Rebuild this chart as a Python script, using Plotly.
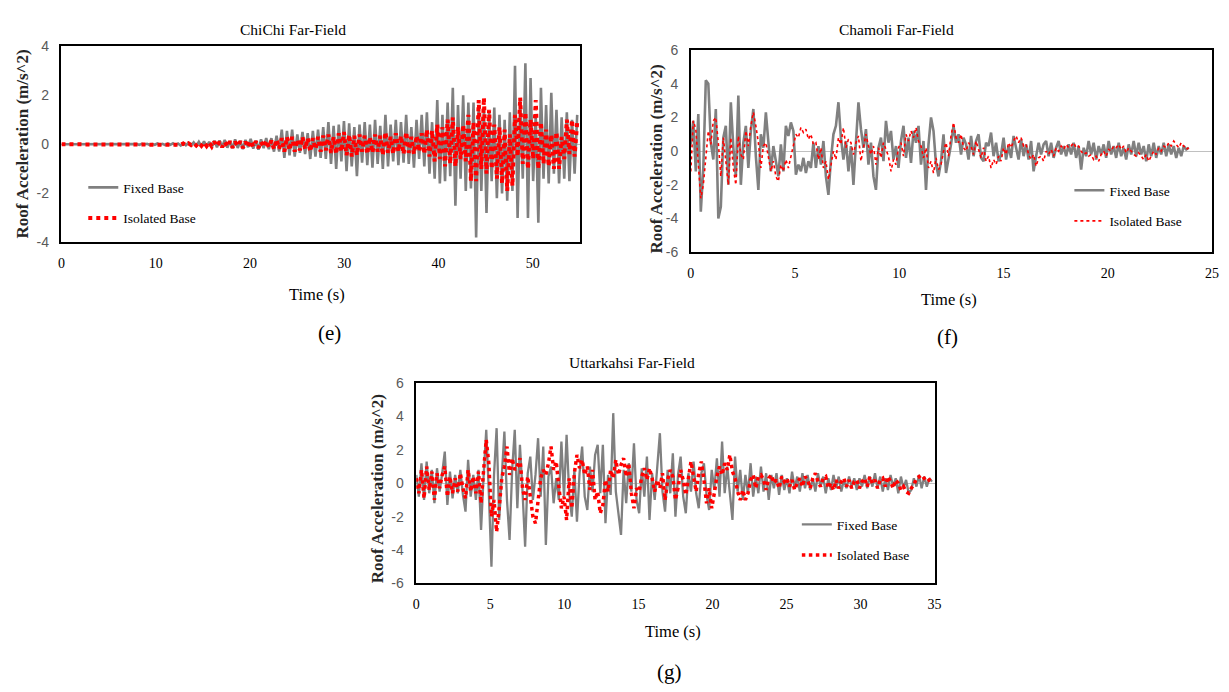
import numpy as np
import plotly.graph_objects as go

W, H = 1229, 692

# ---------------- Data ----------------
# (e) ChiChi Far-Field, sampled every 0.275 s
chichi_dt = 0.275
chichi_fixed = [
    0, 0, 0.01, -0.01, 0, 0.01, 0, -0.01, 0.01, 0, 0, -0.01, 0.01, 0, 0, 0.01, -0.01, 0, 0.01, 0,
    0, -0.01, 0.01, -0.01, 0.01, 0, -0.01, 0.02, -0.01, 0.01, -0.02, 0.02, -0.01, 0.02, -0.02, 0.01, -0.02, 0.03, -0.02, 0.02,
    -0.03, 0.03, -0.02, 0.04, -0.04, 0.03, -0.05, 0.05, -0.04, 0.06, -0.05, 0.08, -0.07, 0.1, -0.09, 0.12, -0.1, 0.1, -0.12, 0.14,
    -0.12, 0.15, -0.1, 0.18, -0.14, 0.12, -0.16, 0.2, -0.15, 0.14, -0.2, 0.18, -0.12, 0.22, -0.18, 0.15, -0.22, 0.2, -0.16, 0.25,
    -0.2, 0.25, -0.3, 0.35, -0.3, 0.6, -0.55, 0.55, -0.45, 0.6, -0.5, 0.4, -0.35, 0.5, -0.4, 0.45, -0.6, 0.55, -0.5, 0.6,
    -0.55, 0.7, -0.6, 0.9, -0.8, 0.75, -1.0, 0.8, -0.7, 0.95, -1.1, 0.85, -0.9, 0.7, -1.3, 0.8, -0.75, 0.9, -0.85, 0.8,
    -0.95, 1.0, -0.8, 0.75, -1.0, 1.2, -0.9, 0.8, -0.7, 1.0, -0.85, 0.9, -0.75, 1.2, -0.8, 0.7, -0.95, 1.0, -0.6, 1.2,
    -0.9, 1.3, -1.2, 0.9, -1.4, 1.8, -1.6, 1.2, -1.5, 1.7, -1.3, 2.3, -2.5, 1.6, -1.4, 2.0, -1.9, 1.7, -1.8, 1.7,
    -3.8, 1.6, -1.9, 1.5, -2.8, 1.3, -1.5, 1.5, -2.2, 1.2, -2.0, 1.0, -2.3, 1.3, -1.9, 3.2, -3.0, 1.8, -1.4, 3.3,
    -3.0, 2.7, -1.5, 1.2, -3.2, 2.3, -1.4, 1.6, -1.6, 2.1, -1.2, 1.4, -1.6, 1.1, -1.4, 1.3, -1.5, 1.0, -1.2, 1.2,
]
chichi_isolated = [
    0, 0, 0, 0, 0, 0, 0, 0, 0, 0, 0, 0, 0, 0, 0, 0, 0, 0, 0, 0,
    0, 0, 0.01, 0, -0.01, 0, 0.01, 0, -0.01, 0.01, 0, -0.01, 0.01, 0, -0.01, 0.01, -0.01, 0.01, -0.01, 0.01,
    0, 0.01, -0.01, 0.01, -0.02, 0.02, -0.02, 0.03, -0.03, 0.04, -0.03, 0.05, -0.05, 0.06, -0.06, 0.08, -0.07, 0.08, -0.09, 0.1,
    -0.08, 0.1, -0.12, 0.1, -0.1, 0.12, -0.14, 0.1, -0.08, 0.12, -0.15, 0.1, -0.12, 0.14, -0.1, 0.12, -0.15, 0.1, -0.12, 0.15,
    -0.12, 0.15, -0.2, 0.2, -0.18, 0.25, -0.3, 0.3, -0.25, 0.3, -0.3, 0.2, -0.25, 0.3, -0.2, 0.25, -0.3, 0.25, -0.2, 0.3,
    -0.3, 0.35, -0.25, 0.4, -0.35, 0.3, -0.4, 0.45, -0.3, 0.5, -0.45, 0.4, -0.5, 0.35, -0.45, 0.4, -0.3, 0.35, -0.4, 0.3,
    -0.35, 0.4, -0.3, 0.35, -0.45, 0.5, -0.35, 0.3, -0.4, 0.45, -0.3, 0.35, -0.4, 0.5, -0.35, 0.3, -0.4, 0.35, -0.3, 0.45,
    -0.4, 0.6, -0.5, 0.55, -0.7, 0.8, -0.6, 0.7, -0.9, 1.0, -0.8, 1.1, -0.9, 0.7, -0.6, 0.8, -0.7, 1.2, -1.5, 0.9,
    -1.5, 1.8, -1.0, 1.9, -1.2, 1.4, -1.0, 0.8, -1.4, 0.7, -1.6, 0.6, -1.9, 0.4, -1.7, 1.2, -0.5, 1.9, -0.8, 1.3,
    -1.0, 1.0, -0.6, 1.8, -1.0, 0.9, -0.8, 0.6, -0.9, 0.4, -1.0, 0.5, -1.0, 0.3, -0.6, 1.0, -0.4, 1.0, -0.5, 0.9,
]

# (f) Chamoli Far-Field, sampled every 0.12 s
chamoli_dt = 0.12
chamoli_fixed = [
    0.4, 1.8, -1.2, 2.2, -3.6, -1.0, 4.2, 4.0, 0.5, -0.5,
    2.5, -4.0, -3.3, 0.8, 1.5, -2.0, 2.9, 0.2, -1.5, 3.3,
    -2.0, 0.5, 1.5, -1.0, 1.2, 2.5, -0.3, -2.3, 1.0, 0.2,
    2.3, 0.5, -1.2, 0.3, -0.5, -1.5, 0.4, -1.2, 1.5, 0.9,
    1.7, 1.2, -1.4, -0.8, -1.2, -0.4, -1.3, -0.6, -1.0, 0.5,
    -1.0, 0.3, -0.8, 0.6, -1.5, -2.6, -0.5, 1.0, 1.5, 2.9,
    0.8, -0.5, 0.6, -1.2, 0.3, -2.0, 0.5, 2.9, 1.3, 0.2,
    1.3, -0.8, 0.5, -1.5, -2.3, 0.2, 0.8, -0.6, 1.8, 0.5,
    1.2, -0.5, 0.3, -1.0, 0.6, 1.5, -0.4, 0.8, -0.7, 1.2,
    0.5, 1.5, -0.8, 0.6, -2.3, 0.4, 2.0, 1.2, -0.8, -1.5,
    -0.6, 1.0, -1.3, -0.5, 0.4, 1.5, 0.5, 1.0, -0.2, 0.8,
    0.4, -0.5, 0.9, -0.3, 0.6, 1.0, -0.4, -0.6, 0.5, 0.3,
    1.1, -0.3, 0.5, -0.6, -0.2, 0.8, -0.5, 0.3, -0.4, 0.9,
    0.2, -0.5, 0.7, -0.3, 0.4, -0.5, 0.6, -1.2, -0.3, 0.5,
    -0.2, 0.4, 0.6, -0.3, 0.5, -0.4, 0.2, 0.6, -0.2, 0.3,
    -0.3, 0.4, -0.2, 0.5, -0.4, 0.3, -1.1, 0.2, -0.3, 0.6,
    -0.2, 0.5, -0.5, 0.3, -0.2, 0.4, -0.4, 0.6, -0.2, 0.3,
    -0.4, 0.5, -0.3, 0.2, -0.5, 0.4, -0.2, 0.6, -0.3, 0.5,
    -0.2, 0.3, -0.6, 0.4, -0.3, 0.5, -0.4, 0.3, -0.2, 0.5,
    -0.3, 0.4, -0.2, 0.3, -0.4, 0.2, -0.3, 0.3, 0.1, 0.2,
]
chamoli_isolated = [
    -1.2, 1.8, 1.3, -0.5, -2.8, -2.0, -0.3, 1.2, 0.4, 1.8,
    2.0, 0.5, -1.5, 0.8, -0.6, -2.0, 0.8, -1.0, -2.0, 0.9,
    -0.2, -0.5, 1.2, 0.3, 1.5, 2.3, 1.5, 0.5, -1.0, 0.3,
    0.5, -0.4, -1.2, -0.6, -1.5, -1.8, -0.8, -1.2, -0.5, -1.0,
    -0.3, 0.2, 1.0, 0.8, 1.4, 1.1, 1.3, 0.7, 1.0, 0.4,
    0.5, -0.5, 0.2, -1.0, -0.6, -1.7, -0.8, 0.0, -0.5, 0.8,
    0.4, 1.4, 0.2, 0.7, 0.5, -0.2, 0.5, 0.9, -0.6, 0.3,
    1.0, 0.3, -0.2, 0.3, -0.8, 0.2, -0.4, 0.5, 0.1, -0.3,
    -1.2, -0.5, -0.8, 0.2, 0.5, -0.3, 1.0, 0.6, 1.2, 0.8,
    1.4, 0.6, 0.3, -0.4, 0.2, -1.0, -0.6, -1.3, -0.4, -1.1,
    -0.8, 0.0, 0.5, -0.3, 0.9, 1.7, 0.8, 0.5, 1.0, 0.2,
    0.0, 0.5, 0.3, -0.2, 0.6, 0.1, -0.4, 0.2, -0.6, -0.3,
    -1.0, -0.5, -0.8, -0.3, -0.6, 0.2, -0.2, 0.5, 0.2, 0.6,
    0.9, 0.5, 0.8, 0.3, 0.4, -0.2, -0.5, -0.2, -0.9, -0.4,
    -0.3, -0.6, 0.0, -0.2, 0.1, -0.3, 0.2, 0.0, 0.3, 0.1,
    0.4, 0.2, 0.3, 0.5, 0.2, 0.3, 0.0, -0.2, -0.1, -0.3,
    -0.2, -0.5, -0.3, -0.6, -0.2, 0.0, -0.3, 0.1, 0.0, 0.3,
    0.2, 0.4, 0.1, 0.3, -0.1, 0.2, 0.0, -0.2, -0.3, -0.1,
    -0.3, -0.5, -0.2, -0.6, -0.3, 0.0, -0.2, 0.2, 0.0, 0.3,
    0.2, 0.5, 0.3, 0.6, 0.4, 0.2, 0.5, 0.3, 0.1, 0.2,
]

# (g) Uttarkahsi Far-Field, sampled every 0.175 s
uttar_dt = 0.175
uttar_fixed = [
    0.5, -0.8, 1.2, -1.0, 1.3, -0.6, 0.8, -1.2, 0.9, -0.5,
    0.6, 1.9, -1.3, 0.7, -0.9, 0.5, -0.6, 0.8, -0.7, -1.7,
    1.4, -0.8, 0.5, -1.0, 0.8, -2.8, 0.5, 3.2, -0.6, -5.0,
    0.5, 3.3, -2.2, 0.6, 3.1, -1.0, -3.4, 0.8, 3.2, -1.5,
    2.3, -0.5, -3.8, 0.6, 1.6, -1.0, 0.5, 2.7, -0.8, 2.2,
    -3.7, 0.4, 1.0, -1.2, 0.3, -1.0, 2.5, -0.8, 2.9, -0.6,
    -2.0, 0.8, -2.3, 0.6, 2.2, -0.8, -1.6, 1.0, -0.5, 1.7,
    2.3, -0.6, 2.3, -2.4, 0.5, -0.7, 4.2, -0.5, -2.0, -3.1,
    0.8, -1.2, 1.2, -0.5, 2.4, -1.0, -1.8, 0.9, -0.8, 1.6,
    -2.2, 0.6, -1.0, 1.0, 3.0, -0.5, -1.7, 0.8, -0.6, 1.8,
    -2.0, 0.5, 1.6, -0.8, -1.8, 0.6, -0.5, 1.3, -0.6, -1.5,
    0.6, 1.2, -0.7, -1.6, 0.8, -0.4, 1.5, -0.8, 2.5, -0.6,
    1.0, -0.6, -2.2, 1.6, -0.5, 0.8, -1.0, 0.5, -0.6, 1.2,
    -0.8, 0.4, -0.6, 1.0, -0.5, 0.6, -1.0, 0.5, -0.3, 0.6,
    -0.7, 0.5, -0.4, 0.3, -0.6, 0.7, -0.3, 0.4, -0.5, 0.6,
    -0.3, 0.5, -0.4, 0.3, -0.5, 0.6, -0.2, 0.4, -0.6, 0.3,
    -0.4, 0.5, -0.3, 0.4, -0.5, 0.2, -0.3, 0.4, -0.2, 0.3,
    -0.4, 0.3, -0.2, 0.5, -0.3, 0.4, -0.2, 0.6, -0.3, 0.4,
    -0.5, 0.3, -0.4, 0.5, -0.2, 0.3, -0.6, 0.4, -0.3, 0.2,
    -0.6, -0.4, 0.3, -0.2, 0.5, -0.3, 0.4, -0.2, 0.3, 0.1,
]
uttar_isolated = [
    0.3, -0.6, 0.8, -0.9, 1.0, -0.4, 0.7, -1.0, 0.6, -0.3,
    0.5, 1.0, -0.8, 0.4, -0.6, 0.3, -0.5, 0.6, -0.3, -0.9,
    0.8, -0.5, 0.4, -0.6, 0.7, -1.2, 0.8, 2.6, 1.2, -2.0,
    -1.0, -2.9, -1.5, 0.3, 1.0, 2.2, 0.5, 1.5, 0.8, 1.0,
    1.5, -0.3, -1.0, 0.4, -0.8, -2.0, -2.4, -1.0, 0.3, 0.8,
    0.5, 1.2, 2.2, 0.8, 1.3, -0.2, -1.5, -0.8, -2.2, 0.3,
    -1.5, 0.6, 1.7, 0.9, 1.4, 0.5, 1.0, -0.4, 0.8, -1.0,
    -0.5, -1.8, -1.3, 0.2, -0.5, 0.8, 0.3, 1.4, 0.5, 1.1,
    1.5, 0.4, 1.2, -0.6, -1.5, -0.3, -0.5, 0.4, 0.9, 0.2,
    0.9, 0.3, -0.5, 0.2, -0.3, 0.6, -1.0, 0.2, 0.8, 0.4,
    -1.0, -0.3, 0.8, 0.2, -0.7, 0.3, 1.3, 0.4, -0.5, 0.6,
    1.3, 0.2, -1.2, -0.3, -1.5, -0.6, 0.4, 1.0, 0.5, 1.2,
    0.8, 1.7, 0.7, 0.3, -0.5, -1.0, -0.4, -1.0, -0.6, 0.2,
    0.5, -0.3, 0.4, 0.5, 0.2, -0.4, 0.3, 0.5, 0.0, 0.2,
    -0.3, 0.4, 0.1, 0.3, -0.2, 0.2, -0.4, 0.0, 0.3, -0.2,
    0.4, 0.2, -0.3, 0.3, 0.6, 0.1, -0.2, 0.3, 0.4, -0.3,
    0.0, -0.4, 0.2, -0.3, 0.1, 0.3, -0.2, 0.2, -0.3, 0.1,
    0.2, -0.3, 0.1, 0.3, -0.2, 0.4, 0.0, 0.2, -0.3, 0.2,
    0.3, -0.2, 0.4, 0.1, -0.3, 0.2, 0.0, -0.4, -0.2, -0.5,
    -0.6, -0.3, -0.1, 0.3, 0.4, 0.2, 0.3, 0.1, 0.2, 0.0,
]

# Tick values / labels (hyphen minus, as in the original)
chichi_yticks = [-4, -2, 0, 2, 4]
chichi_ytext = ["-4", "-2", "0", "2", "4"]
wide_yticks = [-6, -4, -2, 0, 2, 4, 6]
wide_ytext = ["-6", "-4", "-2", "0", "2", "4", "6"]
chichi_xticks = [0, 10, 20, 30, 40, 50]
chamoli_xticks = [0, 5, 10, 15, 20, 25]
uttar_xticks = [0, 5, 10, 15, 20, 25, 30, 35]

panel_titles = ["ChiChi Far-Field", "Chamoli Far-Field", "Uttarkahsi Far-Field"]
panel_letters = ["(e)", "(f)", "(g)"]
series_names = ["Fixed Base", "Isolated Base"]
y_title = "Roof Acceleration (m/s^2)"
x_title = "Time (s)"

# ---------------- Layout helpers ----------------
def px(x):
    return x / W

def py(y):
    return 1 - y / H

SERIF = "Liberation Serif"
SANS = "Liberation Sans"
GREY = "rgb(128,128,128)"
RED = "rgb(255,0,0)"

panels = [
    dict(t=chichi_dt, fixed=chichi_fixed, iso=chichi_isolated,
         box=(58, 581, 39, 240), xr=[0, 55], xt=chichi_xticks, yr=[-4, 4],
         yt=chichi_yticks, ytt=chichi_ytext,
         iso_w=4, fix_w=2.6, legend=(80, 168),
         title=(292, 22), ylab=(19, 139), xlab=(316, 293), letter=(328, 333)),
    dict(t=chamoli_dt, fixed=chamoli_fixed, iso=chamoli_isolated,
         box=(693, 1219, 43, 250), xr=[0, 25], xt=chamoli_xticks, yr=[-6, 6],
         yt=wide_yticks, ytt=wide_ytext,
         iso_w=1.6, fix_w=2.6, legend=(1075, 171),
         title=(901, 22), ylab=(658, 155), xlab=(954, 298), letter=(952, 337)),
    dict(t=uttar_dt, fixed=uttar_fixed, iso=uttar_isolated,
         box=(416, 939, 384, 589), xr=[0, 35], xt=uttar_xticks, yr=[-6, 6],
         yt=wide_yticks, ytt=wide_ytext,
         iso_w=3.5, fix_w=2.3, legend=(800, 513),
         title=(634, 363), ylab=(377, 492), xlab=(675, 638), letter=(672, 680)),
]

fig = go.Figure()
layout = dict(width=W, height=H, margin=dict(l=0, r=0, t=0, b=0),
              paper_bgcolor="white", plot_bgcolor="white", showlegend=True)
annotations = []

for k, p in enumerate(panels):
    sfx = "" if k == 0 else str(k + 1)
    xa, ya = "x" + sfx, "y" + sfx
    leg = "legend" + sfx
    t = np.arange(len(p["fixed"])) * p["t"]
    fig.add_trace(go.Scatter(x=t, y=p["fixed"], mode="lines", name=series_names[0],
                             line=dict(color=GREY, width=p["fix_w"]),
                             xaxis=xa, yaxis=ya, legend=leg, legendgroup=f"f{k}"))
    fig.add_trace(go.Scatter(x=t, y=p["iso"], mode="lines", name=series_names[1],
                             line=dict(color=RED, width=p["iso_w"], dash="dot"),
                             xaxis=xa, yaxis=ya, legend=leg, legendgroup=f"i{k}"))
    x0, x1, y0, y1 = p["box"]
    layout["xaxis" + sfx] = dict(
        domain=[px(x0), px(x1)], range=p["xr"], tickmode="array", tickvals=p["xt"],
        ticktext=[str(v) for v in p["xt"]],
        anchor=ya, showline=True, mirror=True, linecolor="black", linewidth=1.5,
        showgrid=False, zeroline=False, ticks="", ticklabelstandoff=7,
        tickfont=dict(family=SERIF, size=14, color="black"))
    layout["yaxis" + sfx] = dict(
        domain=[py(y1), py(y0)], range=p["yr"], tickmode="array", tickvals=p["yt"],
        ticktext=p["ytt"],
        anchor=xa, showline=True, mirror=True, linecolor="black", linewidth=1.5,
        showgrid=False, zeroline=True, zerolinecolor="#c0c0c0", zerolinewidth=1,
        ticks="", ticklabelstandoff=8,
        tickfont=dict(family=SANS, size=14, color="#595959"))
    lx, ly = p["legend"]
    layout[leg] = dict(x=px(lx), y=py(ly), xanchor="left", yanchor="top",
                       bgcolor="rgba(0,0,0,0)", borderwidth=0,
                       traceorder="grouped", tracegroupgap=10,
                       font=dict(family=SERIF, size=13.5, color="black"))
    annotations += [
        dict(text=panel_titles[k], x=px(p["title"][0]), y=py(p["title"][1]),
             xref="paper", yref="paper", showarrow=False, xanchor="center", yanchor="middle",
             font=dict(family=SERIF, size=15.5, color="black")),
        dict(text=f"<b>{y_title}</b>", x=px(p["ylab"][0]), y=py(p["ylab"][1]), textangle=-90,
             xref="paper", yref="paper", showarrow=False, xanchor="center", yanchor="middle",
             font=dict(family=SERIF, size=17, color="#262626")),
        dict(text=x_title, x=px(p["xlab"][0]), y=py(p["xlab"][1]),
             xref="paper", yref="paper", showarrow=False, xanchor="center", yanchor="middle",
             font=dict(family=SERIF, size=16.5, color="black")),
        dict(text=panel_letters[k], x=px(p["letter"][0]), y=py(p["letter"][1]),
             xref="paper", yref="paper", showarrow=False, xanchor="center", yanchor="middle",
             font=dict(family=SERIF, size=21, color="black")),
    ]

layout["annotations"] = annotations
fig.update_layout(**layout)
fig.write_html("out.html")
